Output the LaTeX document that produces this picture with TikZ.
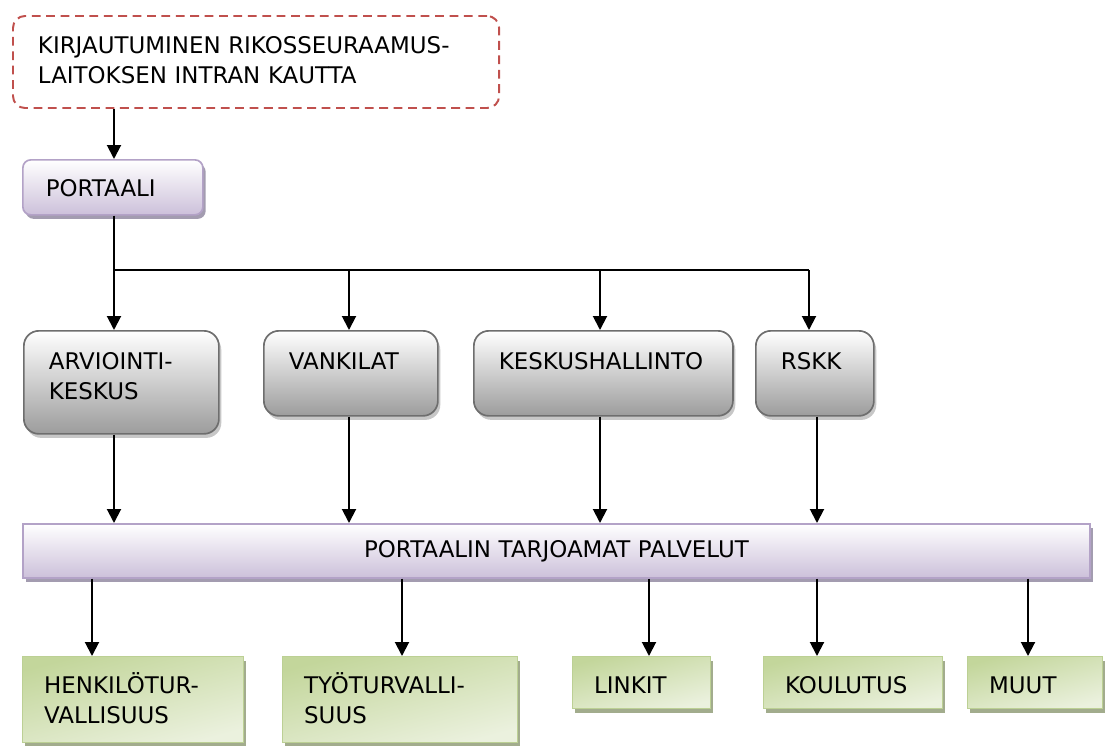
\documentclass[tikz,border=0pt]{standalone}
\usepackage{fontspec}
\setmainfont{DejaVu Sans}
\usetikzlibrary{arrows.meta,shadows}

\definecolor{loginred}{HTML}{C0504D}
\definecolor{lilacline}{HTML}{B3A2C7}
\definecolor{lilacfill}{HTML}{CCC0DA}
\definecolor{lilacshadow}{HTML}{A39CB0}
\definecolor{grayline}{HTML}{6E6E6E}
\definecolor{grayfill}{HTML}{9C9C9C}
\definecolor{greenline}{HTML}{BCD094}
\definecolor{greendark}{HTML}{C3D69B}
\definecolor{greenlight}{HTML}{EBF1DE}
\definecolor{greenshadow}{HTML}{A2AC8D}

\begin{document}
\begin{tikzpicture}
[x=0.025cm,y=-0.025cm,font=\fontsize{16.3}{21.3}\selectfont,
box/.style={anchor=north west,align=left,inner ysep=0pt,line width=1.2pt},
login/.style={box,draw=loginred,line width=1.4pt,dash pattern=on 0.22cm off 0.14cm,
  rounded corners=0.3cm,text width=10.9cm,inner xsep=0.625cm,text height=0.95cm,text depth=1.35cm},
portal/.style={box,draw=lilacline,top color=white,bottom color=lilacfill,rounded corners=0.2cm,
  drop shadow={shadow xshift=0.07cm,shadow yshift=-0.1cm,fill=lilacshadow,opacity=1}},
unit/.style={box,draw=grayline,top color=white,bottom color=grayfill,rounded corners=0.375cm,
  inner xsep=0.625cm,text height=0.975cm,text depth=1.15cm,
  drop shadow={shadow xshift=0.06cm,shadow yshift=-0.1cm,fill=black!22,opacity=1}},
bar/.style={portal,rounded corners=0pt,align=center,text width=26.675cm,inner xsep=0pt,
  text height=0.85cm,text depth=0.5cm},
service/.style={box,draw=greenline,line width=0.8pt,top color=greendark,bottom color=greenlight,
  shading angle=15,inner xsep=0.54cm,text height=0.925cm,text depth=0.375cm,
  drop shadow={shadow xshift=0.07cm,shadow yshift=-0.1cm,fill=greenshadow,opacity=1}},
edge/.style={line width=1.4pt},
arr/.style={edge,-{Triangle[width=0.35cm,length=0.35cm]}}]
%%%%%%%%%%

\useasboundingbox (0,0) rectangle (1106,745);

\node[login] (login) at (12,15) {KIRJAUTUMINEN RIKOSSEURAAMUS-\\LAITOKSEN INTRAN KAUTTA};
\node[portal,text width=3.35cm,inner xsep=0.575cm,text height=0.925cm,text depth=0.45cm] (portaali) at (22,159) {PORTAALI};

\node[unit,text width=3.625cm,text depth=1.6cm] (arv) at (23,330) {ARVIOINTI-\\KESKUS};
\node[unit,text width=3.1cm] (vank) at (263,330) {VANKILAT};
\node[unit,text width=5.225cm] (kesk) at (473,330) {KESKUSHALLINTO};
\node[unit,text width=1.7cm] (rskk) at (755,330) {RSKK};

\node[bar] (bar) at (22,523) {PORTAALIN TARJOAMAT PALVELUT};

\node[service,text width=4.445cm,text depth=1.225cm] (henk) at (22,656) {HENKILÖTUR-\\VALLISUUS};
\node[service,text width=4.795cm,text depth=1.225cm] (tyo) at (282,656) {TYÖTURVALLI-\\SUUS};
\node[service,text width=2.37cm] (link) at (572,656) {LINKIT};
\node[service,text width=3.395cm] (koul) at (763,656) {KOULUTUS};
\node[service,text width=2.295cm] (muut) at (967,656) {MUUT};

% portaali ja jakolinja
\coordinate (split) at (114,270);
\draw[arr] (login.south -| split) -- (portaali.north -| split);
\draw[edge] (portaali.south -| split) -- (split) -- (809,270);
\draw[arr] (split) -- (arv.north -| split);
\foreach \n/\x in {vank/349,kesk/600,rskk/809}
    \draw[arr] (\x,270) -- (\n.north -| \x,0);

% yksikot -> palvelut
\foreach \n/\x in {arv/114,vank/349,kesk/600,rskk/817}
    \draw[arr] (\n.south -| \x,0) -- (bar.north -| \x,0);
\foreach \n/\x in {henk/92,tyo/402,link/649,koul/817,muut/1028}
    \draw[arr] (bar.south -| \x,0) -- (\n.north -| \x,0);
\end{tikzpicture}
\end{document}
